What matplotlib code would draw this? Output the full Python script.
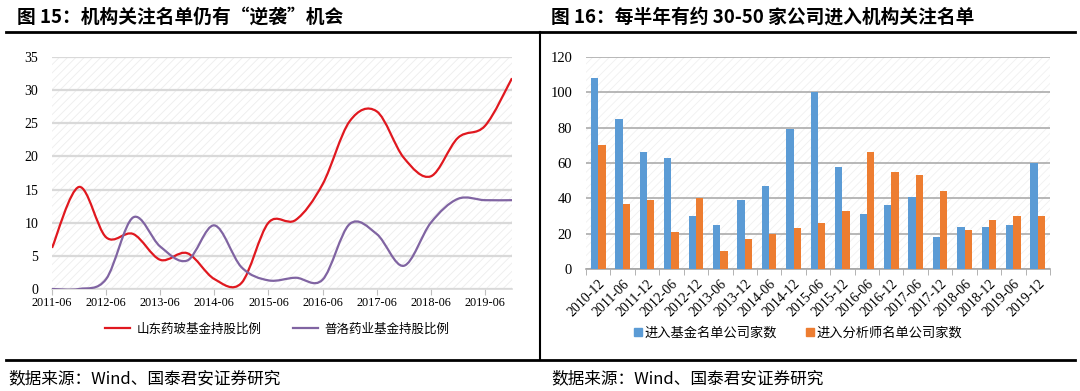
import matplotlib
matplotlib.use("Agg")
import matplotlib.pyplot as plt
import numpy as np
from matplotlib.path import Path
from matplotlib.patches import PathPatch, Rectangle, Patch
from matplotlib.lines import Line2D

plt.rcParams['font.family'] = ['Noto Sans CJK SC', 'DejaVu Sans']
plt.rcParams['hatch.linewidth'] = 0.6

W, H = 1080, 391

# ---- figure 15: fund holding ratio (semi-annual, 2011-06 .. 2019-12)
periods = ['2011-06', '2011-12', '2012-06', '2012-12', '2013-06', '2013-12',
           '2014-06', '2014-12', '2015-06', '2015-12', '2016-06', '2016-12',
           '2017-06', '2017-12', '2018-06', '2018-12', '2019-06', '2019-12']
shandong = [6.2, 15.4, 7.8, 8.3, 4.4, 5.4, 1.5, 0.9, 10.0, 10.4, 15.8, 25.3,
            26.8, 19.8, 17.0, 22.8, 24.6, 31.8]
puluo = [0.0, 0.0, 1.5, 10.8, 6.4, 4.3, 9.6, 3.3, 1.3, 1.7, 1.4, 9.8,
         8.3, 3.5, 10.0, 13.6, 13.4, 13.4]
left_ticks = ['2011-06', '2012-06', '2013-06', '2014-06', '2015-06',
              '2016-06', '2017-06', '2018-06', '2019-06']
left_names = ['山东药玻基金持股比例', '普洛药业基金持股比例']

# ---- figure 16: companies entering the lists
cats = ['2010-12', '2011-06', '2011-12', '2012-06', '2012-12', '2013-06',
        '2013-12', '2014-06', '2014-12', '2015-06', '2015-12', '2016-06',
        '2016-12', '2017-06', '2017-12', '2018-06', '2018-12', '2019-06',
        '2019-12']
fund_cnt = [108, 85, 66, 63, 30, 25, 39, 47, 79, 100, 58, 31, 36, 41, 18,
            24, 24, 25, 60]
analyst_cnt = [70, 37, 39, 21, 40, 10, 17, 20, 23, 26, 33, 66, 55, 53, 44,
               22, 28, 30, 30]
right_names = ['进入基金名单公司家数', '进入分析师名单公司家数']

RED = '#E0181F'
PURPLE = '#8064A2'
BLUE = '#5B9BD5'
ORANGE = '#ED7D31'
SERIF = 'Liberation Serif'


def to_year(p):
    y, m = p.split('-')
    return int(y) - 2011 + (int(m) - 6) / 12.0


def smooth_path(x, y):
    # excel-style smoothed line: catmull-rom as cubic bezier
    pts = np.column_stack([x, y])
    p = np.vstack([pts[0], pts, pts[-1]])
    verts = [pts[0]]
    codes = [Path.MOVETO]
    for i in range(1, len(p) - 2):
        c1 = p[i] + (p[i + 1] - p[i - 1]) / 6.0
        c2 = p[i + 1] - (p[i + 2] - p[i]) / 6.0
        verts += [c1, c2, p[i + 1]]
        codes += [Path.CURVE4] * 3
    return Path(verts, codes)


def px_axes(fig, x0, y0, x1, y1):
    return fig.add_axes([x0 / W, 1 - y1 / H, (x1 - x0) / W, (y1 - y0) / H])


def hatch_bg(ax, color):
    ax.add_patch(Rectangle((0, 0), 1, 1, transform=ax.transAxes,
                           facecolor='white', edgecolor=color, hatch='////',
                           lw=0, zorder=0))


fig = plt.figure(figsize=(W / 100, H / 100), dpi=100)

# frame lines and titles
def fline(xs, ys, lw=1.8):
    fig.add_artist(Line2D([x / W for x in xs], [1 - y / H for y in ys],
                          color='black', lw=lw))

fline([6, 1075], [32, 32], lw=2.0)
fline([540, 540], [32, 360], lw=1.5)
fline([6, 1075], [360, 360], lw=2.0)

fig.text(17 / W, 1 - 17 / H, '图 15：机构关注名单仍有“逆袭”机会',
         fontsize=13.5, fontweight='bold', va='center', ha='left')
fig.text(551 / W, 1 - 17 / H, '图 16：每半年有约 30-50 家公司进入机构关注名单',
         fontsize=13.5, fontweight='bold', va='center', ha='left')
for x in (8, 551):
    fig.text(x / W, 1 - 379 / H, '数据来源：Wind、国泰君安证券研究',
             fontsize=12, va='center', ha='left')

# ---- left chart
ax1 = px_axes(fig, 52, 57, 512, 289)
hatch_bg(ax1, '#EDEDED')
xs = np.array([to_year(p) for p in periods])
for vals, col in ((shandong, RED), (puluo, PURPLE)):
    ax1.add_patch(PathPatch(smooth_path(xs, np.array(vals)), facecolor='none',
                            edgecolor=col, lw=1.6, zorder=3))
ax1.set_xlim(xs[0], xs[-1])
ax1.set_ylim(0, 35)
ax1.set_yticks(np.arange(0, 36, 5))
ax1.set_xticks([to_year(p) for p in left_ticks])
ax1.set_xticklabels(left_ticks)
ax1.grid(axis='y', color='#D9D9D9', lw=1.6, zorder=1)
ax1.set_axisbelow(True)
for s in ('top', 'right', 'left'):
    ax1.spines[s].set_visible(False)
ax1.spines['bottom'].set_color('#D9D9D9')
ax1.spines['bottom'].set_linewidth(1.2)
ax1.tick_params(axis='y', length=0, pad=10, labelsize=10)
ax1.tick_params(axis='x', length=4, color='#BFBFBF', pad=2, labelsize=8.8)
for lab in ax1.get_xticklabels() + ax1.get_yticklabels():
    lab.set_fontfamily(SERIF)
h1 = [Line2D([], [], color=RED, lw=1.6), Line2D([], [], color=PURPLE, lw=1.6)]
fig.legend(h1, left_names, loc='center', bbox_to_anchor=(277 / W, 1 - 329 / H),
           ncol=2, frameon=False, fontsize=9, handlelength=2.0,
           handletextpad=0.5, columnspacing=2.5)

# ---- right chart
ax2 = px_axes(fig, 586, 57, 1050, 269)
hatch_bg(ax2, '#F0F0F0')
idx = np.arange(len(cats))
bw = 0.3
ax2.bar(idx - bw / 2, fund_cnt, width=bw, color=BLUE, zorder=3)
ax2.bar(idx + bw / 2, analyst_cnt, width=bw, color=ORANGE, zorder=3)
ax2.set_xlim(-0.5, len(cats) - 0.5)
ax2.set_ylim(0, 120)
ax2.set_yticks(np.arange(0, 121, 20))
ax2.set_xticks(idx)
ax2.set_xticklabels(cats, rotation=45, ha='right', rotation_mode='anchor')
ax2.set_xticks(np.arange(-0.5, len(cats), 1.0), minor=True)
ax2.grid(axis='y', color='#ABABAB', lw=1.2, zorder=1)
ax2.set_axisbelow(True)
for s in ('top', 'right', 'left'):
    ax2.spines[s].set_visible(False)
ax2.spines['bottom'].set_color('#A6A6A6')
ax2.spines['bottom'].set_linewidth(1.2)
ax2.tick_params(axis='y', length=0, pad=10, labelsize=10.5)
ax2.tick_params(axis='x', which='major', length=0, pad=6, labelsize=10)
ax2.tick_params(axis='x', which='minor', length=4, color='#A6A6A6')
for lab in ax2.get_xticklabels() + ax2.get_yticklabels():
    lab.set_fontfamily(SERIF)
h2 = [Patch(color=BLUE), Patch(color=ORANGE)]
fig.legend(h2, right_names, loc='center', bbox_to_anchor=(798 / W, 1 - 333 / H),
           ncol=2, frameon=False, fontsize=9.5, handlelength=0.6,
           handleheight=0.6, handletextpad=0.2, columnspacing=2.2)

fig.savefig('out.png', dpi=100)
